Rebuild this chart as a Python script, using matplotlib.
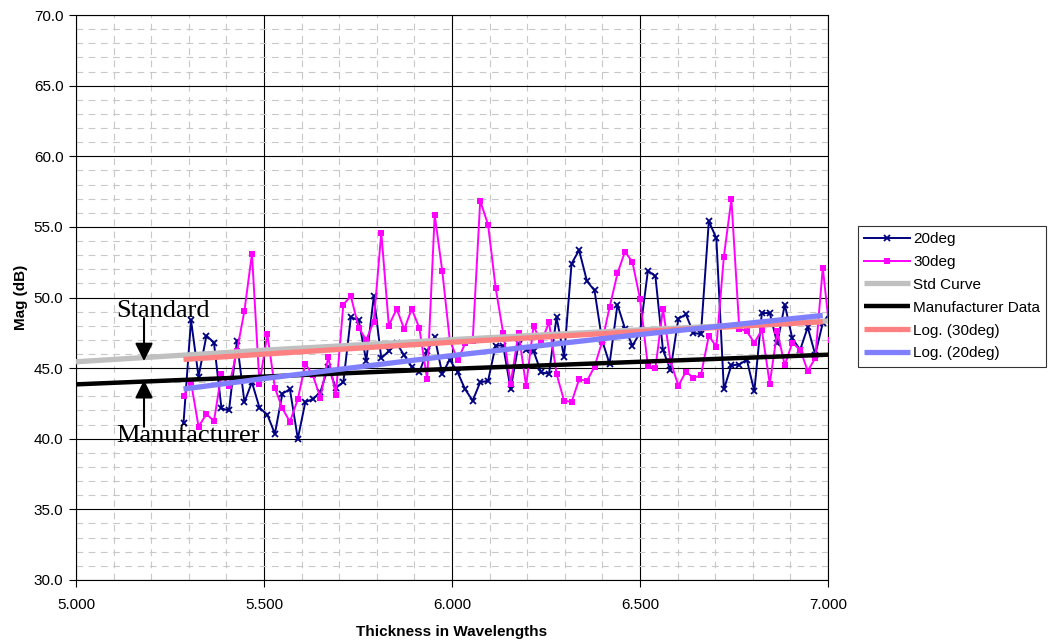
import matplotlib
matplotlib.use('Agg')
import matplotlib.pyplot as plt
from matplotlib.ticker import MultipleLocator, FormatStrFormatter

plt.rcParams['font.family'] = ['Liberation Sans', 'DejaVu Sans']

# ---- data ----
thickness = [5.286, 5.306, 5.326, 5.347, 5.367, 5.387, 5.407, 5.428, 5.448, 5.468,
             5.488, 5.509, 5.529, 5.549, 5.569, 5.590, 5.610, 5.630, 5.650, 5.671,
             5.691, 5.711, 5.731, 5.752, 5.772, 5.792, 5.812, 5.832, 5.853, 5.873,
             5.893, 5.913, 5.934, 5.954, 5.974, 5.994, 6.015, 6.035, 6.055, 6.075,
             6.096, 6.116, 6.136, 6.156, 6.177, 6.197, 6.217, 6.237, 6.258, 6.278,
             6.298, 6.318, 6.338, 6.359, 6.379, 6.399, 6.419, 6.440, 6.460, 6.480,
             6.500, 6.521, 6.541, 6.561, 6.581, 6.602, 6.622, 6.642, 6.662, 6.683,
             6.703, 6.723, 6.743, 6.764, 6.784, 6.804, 6.824, 6.845, 6.865, 6.885,
             6.905, 6.926, 6.946, 6.966, 6.986, 7.007]

mag_20deg = [41.1, 48.4, 44.4, 47.3, 46.8, 42.15, 42.0, 46.9, 42.6, 44.0,
             42.2, 41.7, 40.35, 43.2, 43.5, 40.0, 42.6, 42.8, 43.3, 45.1,
             43.6, 44.0, 48.6, 48.4, 45.5, 50.1, 45.7, 46.2, 46.75, 45.9,
             45.1, 44.7, 46.2, 47.2, 44.6, 45.6, 44.7, 43.5, 42.7, 44.0,
             44.1, 46.6, 46.6, 43.5, 46.7, 46.3, 46.2, 44.7, 44.6, 48.6,
             45.8, 52.4, 53.35, 51.15, 50.5, 47.0, 45.3, 49.5, 47.8, 46.6,
             47.5, 51.9, 51.5, 46.3, 44.85, 48.5, 48.8, 47.5, 47.4, 55.4,
             54.2, 43.5, 45.2, 45.25, 45.6, 43.35, 48.9, 48.9, 46.75, 49.5,
             47.1, 46.3, 47.9, 45.95, 48.2, 49.0]

mag_30deg = [43.0, 44.0, 40.85, 41.75, 41.25, 44.6, 43.7, 46.2, 49.05, 53.1,
             43.9, 47.4, 43.6, 42.15, 41.2, 42.8, 45.3, 44.5, 42.9, 45.8,
             43.1, 49.5, 50.1, 47.85, 47.0, 48.3, 54.6, 48.0, 49.2, 47.75,
             49.2, 47.85, 44.2, 55.85, 51.9, 47.0, 45.55, 46.75, 46.9, 56.85,
             55.15, 50.7, 47.5, 43.9, 47.5, 43.75, 48.0, 46.8, 48.25, 44.6,
             42.7, 42.6, 44.2, 44.1, 45.1, 46.85, 49.3, 51.7, 53.25, 52.5,
             49.9, 45.15, 45.0, 49.2, 45.5, 43.75, 44.75, 44.3, 44.5, 47.3,
             46.5, 52.9, 56.95, 47.8, 47.6, 46.8, 47.7, 43.9, 47.6, 45.2,
             46.8, 46.3, 44.8, 45.7, 52.1, 47.0]

ref_x = [5.0, 5.5, 6.0, 6.5, 7.0]
std_curve = [45.45, 46.27, 47.02, 47.71, 48.34]
manufacturer = [43.85, 44.4, 44.95, 45.45, 45.95]

trend_x = [5.286, 5.5, 6.0, 6.5, 6.986]
log_30deg = [45.61, 45.99, 46.83, 47.59, 48.28]
log_20deg = [43.52, 44.26, 45.89, 47.38, 48.73]

# ---- figure ----
fig = plt.figure(figsize=(10.52, 6.42), dpi=100)
ax = fig.add_axes([0.0722, 0.0966, 0.7149, 0.880])

ax.plot(thickness, mag_20deg, color='#000080', lw=1.4, marker='x', ms=5,
        mew=1.3, label='20deg', zorder=3)
ax.plot(thickness, mag_30deg, color='#FF00FF', lw=1.4, marker='s', ms=5,
        mew=0, label='30deg', zorder=3)
ax.plot(ref_x, std_curve, color='#C0C0C0', lw=3.8, label='Std Curve',
        solid_capstyle='butt', zorder=4)
ax.plot(ref_x, manufacturer, color='black', lw=3.2, label='Manufacturer Data',
        solid_capstyle='butt', zorder=4)
ax.plot(trend_x, log_30deg, color='#FF8080', lw=3.8, label='Log. (30deg)',
        solid_capstyle='butt', zorder=4)
ax.plot(trend_x, log_20deg, color='#8080FF', lw=3.8, label='Log. (20deg)',
        solid_capstyle='butt', zorder=4)

ax.set_xlim(5.0, 7.0)
ax.set_ylim(30, 70)
ax.xaxis.set_major_locator(MultipleLocator(0.5))
ax.xaxis.set_minor_locator(MultipleLocator(0.1))
ax.yaxis.set_major_locator(MultipleLocator(5))
ax.yaxis.set_minor_locator(MultipleLocator(1))
ax.xaxis.set_major_formatter(FormatStrFormatter('%.3f'))
ax.yaxis.set_major_formatter(FormatStrFormatter('%.1f'))

ax.grid(which='minor', color='#C8C8C8', lw=0.8, linestyle=(0, (6, 5)), zorder=0)
ax.grid(which='major', color='black', lw=0.8, zorder=1)
ax.set_axisbelow(True)
ax.tick_params(which='major', direction='out', length=5, width=0.8,
               labelsize=11, pad=4)
ax.tick_params(axis='x', pad=8)
ax.tick_params(which='minor', length=0)
for sp in ax.spines.values():
    sp.set_color('black')
    sp.set_linewidth(0.8)

ax.set_xlabel('Thickness in Wavelengths', fontsize=11, fontweight='bold', labelpad=9)
ax.set_ylabel('Mag (dB)', fontsize=11, fontweight='bold', labelpad=4)

# annotations: Standard vs Manufacturer
serif = ['Liberation Serif', 'DejaVu Serif']
ax.text(5.106, 48.62, 'Standard', family=serif, fontsize=19, va='baseline',
        ha='left', zorder=6)
ax.text(5.106, 39.8, 'Manufacturer', family=serif, fontsize=19, va='baseline',
        ha='left', zorder=6, clip_on=False)
arrow = dict(arrowstyle='-|>,head_length=0.6,head_width=0.3', color='black',
             lw=1.5, mutation_scale=18, shrinkA=0, shrinkB=0)
ax.annotate('', xy=(5.181, 45.5), xytext=(5.181, 48.55), arrowprops=arrow, zorder=6)
ax.annotate('', xy=(5.181, 44.15), xytext=(5.181, 40.85), arrowprops=arrow, zorder=6)

leg = ax.legend(loc='upper left', bbox_to_anchor=(0.8156, 0.648),
                bbox_transform=fig.transFigure, fontsize=11, frameon=True,
                fancybox=False, edgecolor='black', borderaxespad=0,
                handlelength=3.0, handletextpad=0.2, labelspacing=0.58,
                borderpad=0.4)
leg.get_frame().set_linewidth(0.8)

fig.savefig('out.png', dpi=100)
